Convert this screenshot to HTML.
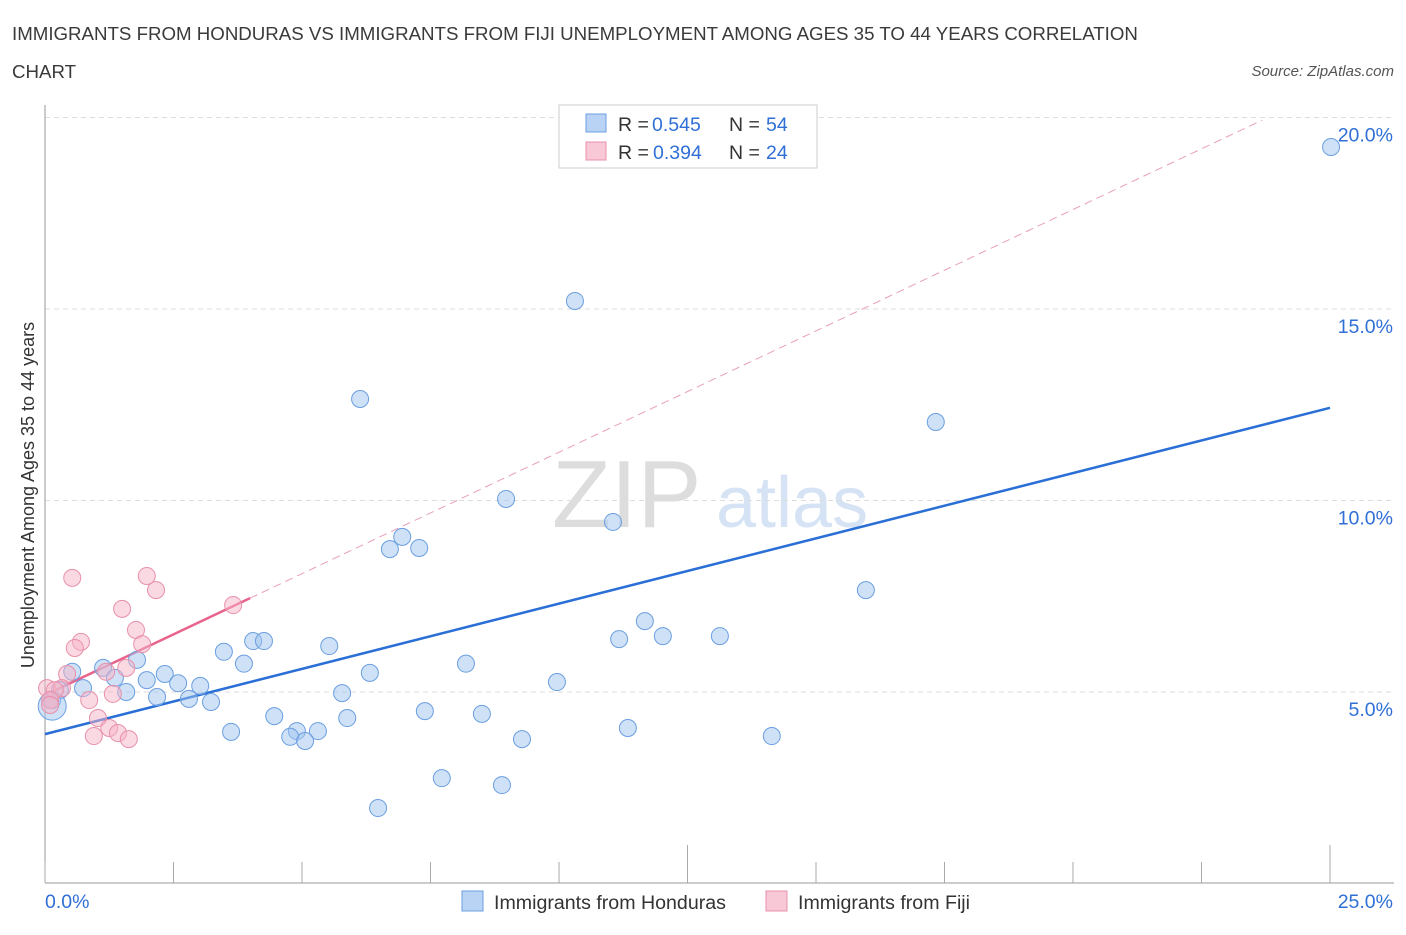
<!DOCTYPE html>
<html><head><meta charset="utf-8"><style>
body{margin:0;background:#fff;font-family:"Liberation Sans",sans-serif;}
svg text{font-family:"Liberation Sans",sans-serif;}
</style></head><body>
<svg id="chart" width="1406" height="930" viewBox="0 0 1406 930" xmlns="http://www.w3.org/2000/svg">
<text x="12" y="40" font-size="18.7" fill="#3a3a3a">IMMIGRANTS FROM HONDURAS VS IMMIGRANTS FROM FIJI UNEMPLOYMENT AMONG AGES 35 TO 44 YEARS CORRELATION</text>
<text x="12" y="78" font-size="18.7" fill="#3a3a3a">CHART</text>
<text x="1394" y="76" font-size="15" fill="#555" text-anchor="end" font-style="italic">Source: ZipAtlas.com</text>
<text x="552" y="527" font-size="96" fill="#ddd" font-family="Liberation Serif">ZIP</text>
<text x="716" y="527" font-size="72" fill="#d5e3f5">atlas</text>
<g id="grid"></g><g id="axes"></g><g id="lines"></g><g id="pts"></g>
<text transform="translate(34,495) rotate(-90)" font-size="18" fill="#333" text-anchor="middle">Unemployment Among Ages 35 to 44 years</text>
<g>
<rect x="559" y="105" width="258" height="63" fill="#fff" stroke="#ccc"/>
<rect x="586" y="114" width="20" height="18" fill="#b9d3f5" stroke="#6a9fe0"/>
<text x="618" y="131" font-size="19.5" fill="#333">R =</text><text x="652" y="131" font-size="19.5" fill="#2f6fd6">0.545</text>
<text x="729" y="131" font-size="19.5" fill="#333">N =</text><text x="766" y="131" font-size="19.5" fill="#2f6fd6">54</text>
<rect x="586" y="142" width="20" height="18" fill="#f9c8d6" stroke="#e890aa"/>
<text x="618" y="159" font-size="19.5" fill="#333">R =</text><text x="653" y="159" font-size="19.5" fill="#2f6fd6">0.394</text>
<text x="729" y="159" font-size="19.5" fill="#333">N =</text><text x="766" y="159" font-size="19.5" fill="#2f6fd6">24</text>
</g>
<g>
<rect x="462" y="891" width="21" height="20" fill="#b9d3f5" stroke="#6a9fe0"/>
<text x="494" y="909" font-size="19.6" fill="#333">Immigrants from Honduras</text>
<rect x="766" y="891" width="21" height="20" fill="#f9c8d6" stroke="#e890aa"/>
<text x="798" y="909" font-size="19.6" fill="#333">Immigrants from Fiji</text>
</g>
</svg>
<script>
const blueX=[25.02,10.31,6.13,17.33,8.97,11.05,6.95,6.71,7.28,15.97,11.67,12.02,13.13,11.17,4.05,4.26,5.53,3.48,1.79,3.87,8.19,1.13,0.53,2.33,6.32,1.36,1.98,2.59,9.96,3.02,0.74,0.29,1.58,5.78,2.18,2.80,3.23,0.14,7.39,4.46,8.50,5.88,3.62,4.90,5.31,11.34,4.77,5.06,9.28,14.14,7.72,8.89,6.48,0.14];
const blueY=[19.23,15.21,12.65,12.05,10.04,9.44,9.05,8.73,8.76,7.66,6.85,6.46,6.46,6.38,6.33,6.33,6.20,6.05,5.84,5.74,5.74,5.63,5.53,5.47,5.50,5.37,5.31,5.23,5.26,5.16,5.10,5.05,5.00,4.97,4.87,4.82,4.74,4.79,4.50,4.37,4.43,4.32,3.96,3.98,3.98,4.06,3.83,3.72,3.77,3.85,2.75,2.57,1.97,4.63];
const pinkX=[0.53,1.98,2.16,3.66,1.50,1.77,0.70,1.89,0.58,0.43,1.58,0.04,0.33,0.19,1.32,0.86,0.10,1.03,1.25,0.95,1.42,1.63,0.10,1.19];
const pinkY=[7.98,8.03,7.66,7.27,7.17,6.62,6.31,6.25,6.15,5.47,5.63,5.10,5.10,5.05,4.95,4.79,4.79,4.32,4.06,3.85,3.93,3.77,4.66,5.53];
const yTicks=[5,10,15,20];
const yTickLabels=["5.0%","10.0%","15.0%","20.0%"];
const blueLine=[[0,3.9],[25,12.42]];
const pinkLine=[[0,4.92],[3.99,7.45],[23.68,19.93]];
const NS="http://www.w3.org/2000/svg";
const sx=v=>45+v*51.4, sy=v=>883.5-v*38.3;
function mk(p,tag,a){const e=document.createElementNS(NS,tag);for(const k in a)e.setAttribute(k,a[k]);document.getElementById(p).appendChild(e);return e;}
yTicks.forEach((t,i)=>{
 const g=mk('grid','line',{x1:45,x2:1394,y1:sy(t),y2:sy(t),stroke:'#ddd','stroke-dasharray':'5,4'});
 
 
 const l=mk('grid','text',{x:1393,y:sy(t)+24,'font-size':19.5,fill:'#2f6fd6','text-anchor':'end'});
 l.textContent=yTickLabels[i];
 
 
});
const ax=mk('axes','line',{x1:45,x2:1394,y1:883,y2:883,stroke:'#999'});


const ay=mk('axes','line',{x1:45,x2:45,y1:105,y2:883,stroke:'#999'});


for(let i=0;i<=10;i++){const v=i*2.5;const tk=mk('axes','line',{x1:sx(v),x2:sx(v),y1:(i==5||i==10)?845:862,y2:883,stroke:'#aaa'});
 
 }
const xl0=mk('axes','text',{x:45,y:908,'font-size':19.5,fill:'#2f6fd6'});xl0.textContent='0.0%';


const xl1=mk('axes','text',{x:1393,y:908,'font-size':19.5,fill:'#2f6fd6','text-anchor':'end'});xl1.textContent='25.0%';


const bl=mk('lines','line',{x1:sx(blueLine[0][0]),y1:sy(blueLine[0][1]),x2:sx(blueLine[1][0]),y2:sy(blueLine[1][1]),stroke:'#2a6fd6','stroke-width':2.5});


const pd=mk('lines','line',{x1:sx(pinkLine[1][0]),y1:sy(pinkLine[1][1]),x2:sx(pinkLine[2][0]),y2:sy(pinkLine[2][1]),stroke:'#e8a0b4','stroke-width':1,'stroke-dasharray':'8,5'});


const pl=mk('lines','line',{x1:sx(pinkLine[0][0]),y1:sy(pinkLine[0][1]),x2:sx(pinkLine[1][0]),y2:sy(pinkLine[1][1]),stroke:'#e8648c','stroke-width':2.5});


blueX.forEach((x,i)=>{const c=mk('pts','circle',{cx:sx(x),cy:sy(blueY[i]),r:i==blueX.length-1?14:8.5,fill:'rgba(160,196,240,0.5)',stroke:'#6a9fe0','stroke-width':1});
 
 });
pinkX.forEach((x,i)=>{const c=mk('pts','circle',{cx:sx(x),cy:sy(pinkY[i]),r:8.5,fill:'rgba(245,180,200,0.5)',stroke:'#e890aa','stroke-width':1});
 
 });
</script>
</body></html>
